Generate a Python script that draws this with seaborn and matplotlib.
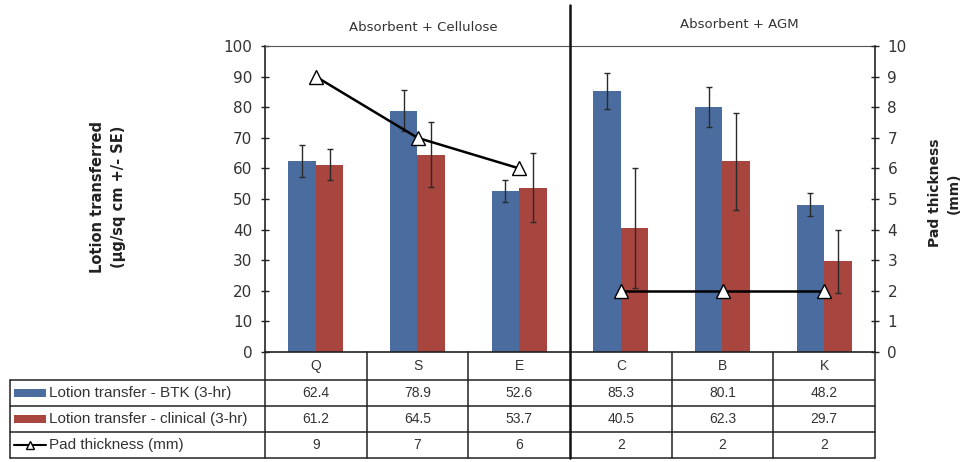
import numpy as np
import pandas as pd
import matplotlib
matplotlib.use("Agg")
import matplotlib.pyplot as plt
from matplotlib.patches import Rectangle
from matplotlib.lines import Line2D
import seaborn as sns

# data
categories = ["Q", "S", "E", "C", "B", "K"]
groups = ["Absorbent + Cellulose", "Absorbent + Cellulose", "Absorbent + Cellulose",
          "Absorbent + AGM", "Absorbent + AGM", "Absorbent + AGM"]
btk = [62.4, 78.9, 52.6, 85.3, 80.1, 48.2]
btk_se = [5.2, 6.7, 3.6, 5.9, 6.5, 3.8]
clinical = [61.2, 64.5, 53.7, 40.5, 62.3, 29.7]
clinical_se = [5.1, 10.7, 11.3, 19.6, 15.8, 10.3]
pad = [9, 7, 6, 2, 2, 2]
series = ["Lotion transfer - BTK (3-hr)", "Lotion transfer - clinical (3-hr)"]
pad_label = "Pad thickness (mm)"

blue = "#4b6c9f"
red = "#a8453f"
ink = "#222222"
txt = "#333333"

sns.set_style("white")
plt.rcParams["font.family"] = ["DejaVu Sans"]
narrow = ["Liberation Sans", "DejaVu Sans"]

df = pd.DataFrame({
    "cat": categories * 2,
    "series": [series[0]] * 6 + [series[1]] * 6,
    "value": btk + clinical,
    "se": btk_se + clinical_se,
})

fig = plt.figure(figsize=(9.67, 4.62), dpi=100)
ax = fig.add_axes([265 / 967, 1 - 352 / 462, 610 / 967, 306 / 462])

sns.barplot(data=df, x="cat", y="value", hue="series", order=categories,
            hue_order=series, palette=[blue, red], width=0.54, gap=0,
            saturation=1, errorbar=None, legend=False, linewidth=0, ax=ax)

# error bars on bar centres
for i, s in enumerate(series):
    sub = df[df["series"] == s].set_index("cat").loc[categories]
    bars = ax.containers[i]
    xs = [b.get_x() + b.get_width() / 2 for b in bars]
    ax.errorbar(xs, sub["value"], yerr=sub["se"], fmt="none", ecolor="#2a2a2a",
                elinewidth=1.0, capsize=2, capthick=1.0, zorder=4)

ax.set_xlim(-0.5, 5.5)
ax.set_ylim(0, 100)
ax.set_yticks(range(0, 101, 10))
ax.set_xticks([])
ax.set_xlabel("")
ax.set_ylabel("")
ax.tick_params(axis="y", direction="inout", length=6, width=1, color=ink,
               labelsize=11, labelcolor=txt, pad=6, left=True)
for side in ["left", "bottom"]:
    ax.spines[side].set_color(ink)
    ax.spines[side].set_linewidth(1.2)
ax.spines["top"].set_color("#555555")
ax.spines["top"].set_linewidth(0.8)
ax.spines["right"].set_visible(False)

# pad thickness on the secondary axis
ax2 = ax.twinx()
pdf = pd.DataFrame({"pos": np.arange(len(categories)), "pad": pad, "group": groups})
sns.lineplot(data=pdf, x="pos", y="pad", units="group", estimator=None,
             color="black", linewidth=1.8, marker="^", markersize=10,
             markerfacecolor="white", markeredgecolor="black",
             markeredgewidth=1.0, ax=ax2, zorder=5)
ax2.set_ylim(0, 10)
ax2.set_yticks(range(0, 11))
ax2.set_xlim(-0.5, 5.5)
ax2.set_xlabel("")
ax2.set_ylabel("")
ax2.tick_params(axis="y", direction="inout", length=6, width=1, color=ink,
                labelsize=11, labelcolor=txt, pad=6, right=True)
for side in ["left", "top", "bottom"]:
    ax2.spines[side].set_visible(False)
ax2.spines["right"].set_color(ink)
ax2.spines["right"].set_linewidth(1.2)

# axis titles
ax.text(-0.257, 0.506, "Lotion transferred\n(\u00b5g/sq cm +/- SE)", transform=ax.transAxes,
        rotation=90, ha="center", va="center", fontsize=10.5, fontweight="bold",
        color=ink, linespacing=1.5)
ax.text(1.114, 0.52, "Pad thickness\n(mm)", transform=ax.transAxes,
        rotation=90, ha="center", va="center", fontsize=10, fontweight="bold",
        color=ink, linespacing=1.4)

# group labels and separator
ax.text(1.06, 1.06, "Absorbent + Cellulose", transform=ax.get_xaxis_transform(),
        ha="center", va="center", fontsize=9.5, color=txt)
ax.text(4.17, 1.07, "Absorbent + AGM", transform=ax.get_xaxis_transform(),
        ha="center", va="center", fontsize=9.5, color=txt)

xt = ax.get_xaxis_transform()
row_y = [-0.0915, -0.176, -0.261, -0.346]
ax.plot([2.5, 2.5], [1.134, row_y[-1]], transform=xt, color="#111111",
        lw=1.8, clip_on=False, zorder=6)

# data table below the chart
tab_left = (10 - 265) / 610
for x in np.arange(-0.5, 6.0, 1.0):
    if x == 2.5:
        continue
    ax.plot([x, x], [0, row_y[-1]], transform=xt, color=ink, lw=1.1, clip_on=False)
for y in row_y:
    ax.plot([tab_left, 1], [y, y], transform=ax.transAxes, color=ink, lw=1.1,
            clip_on=False)
ax.plot([tab_left, tab_left], [row_y[0], row_y[-1]], transform=ax.transAxes,
        color=ink, lw=1.1, clip_on=False)

cat_y = row_y[0] / 2
rows_mid = [(row_y[k] + row_y[k + 1]) / 2 for k in range(3)]
for i, c in enumerate(categories):
    ax.text(i, cat_y, c, transform=xt, ha="center", va="center", fontsize=10,
            color=txt, family=narrow)
    ax.text(i, rows_mid[0], f"{btk[i]:.1f}", transform=xt, ha="center",
            va="center", fontsize=10, color=txt, family=narrow)
    ax.text(i, rows_mid[1], f"{clinical[i]:.1f}", transform=xt, ha="center",
            va="center", fontsize=10, color=txt, family=narrow)
    ax.text(i, rows_mid[2], f"{pad[i]}", transform=xt, ha="center",
            va="center", fontsize=10, color=txt, family=narrow)

key_x0 = (14 - 265) / 610
key_w = 32 / 610
label_x = (49 - 265) / 610
for k, (lab, col) in enumerate(zip(series, [blue, red])):
    ax.add_patch(Rectangle((key_x0, rows_mid[k] - 0.013), key_w, 0.026,
                           transform=ax.transAxes, facecolor=col,
                           edgecolor="none", clip_on=False))
    ax.text(label_x, rows_mid[k], lab, transform=ax.transAxes, ha="left",
            va="center", fontsize=11, color=txt, family=narrow)
ax.add_artist(Line2D([key_x0, key_x0 + key_w], [rows_mid[2], rows_mid[2]],
                     transform=ax.transAxes, color="black", lw=1.5,
                     clip_on=False))
ax.add_artist(Line2D([key_x0 + key_w / 2], [rows_mid[2]], transform=ax.transAxes,
                     marker="^", markersize=6, markerfacecolor="white",
                     markeredgecolor="black", clip_on=False))
ax.text(label_x, rows_mid[2], pad_label, transform=ax.transAxes, ha="left",
        va="center", fontsize=11, color=txt, family=narrow)

fig.savefig("out.png", dpi=100)
